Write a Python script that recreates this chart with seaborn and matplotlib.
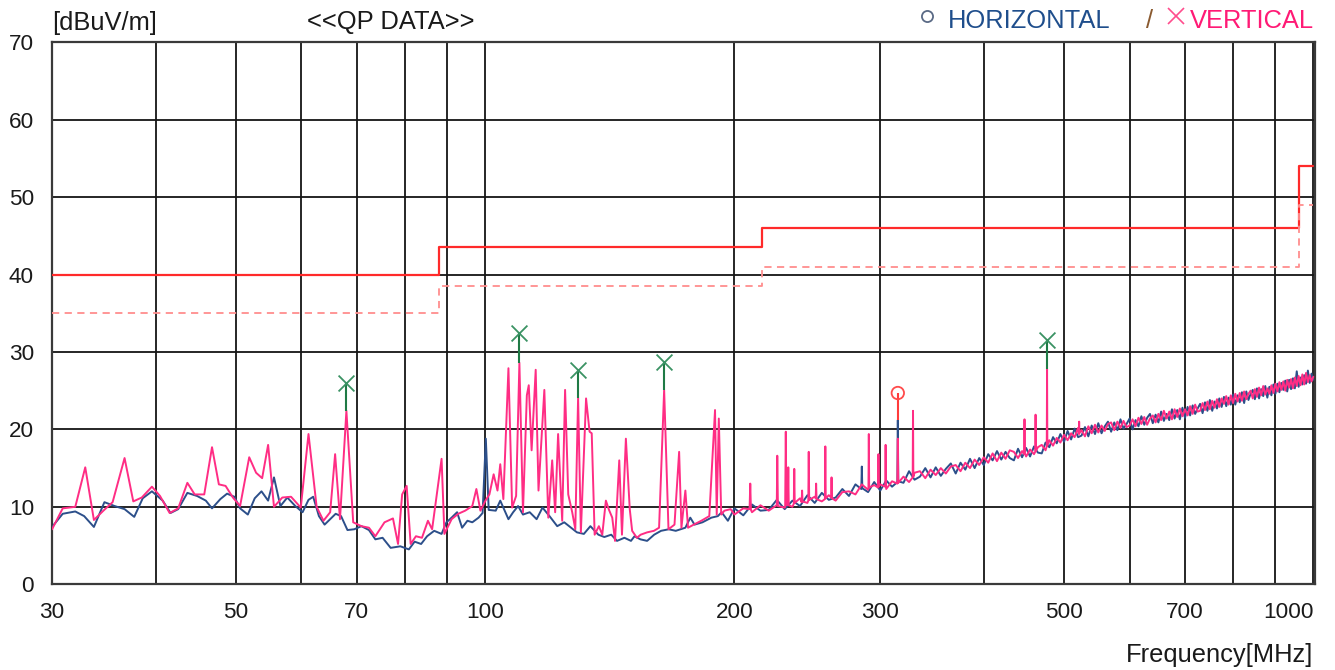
import matplotlib
matplotlib.use("Agg")
import matplotlib.pyplot as plt
from matplotlib.lines import Line2D
from matplotlib.ticker import NullLocator
import pandas as pd
import seaborn as sns

# 規格線 (QP limit) と 5dB マージン
lim_freq = [30, 88, 216, 960, 1000]
lim_level = [40, 43.5, 46, 54, 54]
margin_level = [35, 38.5, 41, 49, 49]

# 目盛り
grid_freq = [30, 40, 50, 60, 70, 80, 90, 100, 200, 300, 400, 500, 600, 700, 800, 900, 1000]
grid_label = ['30', '', '50', '', '70', '', '', '100', '200', '300', '', '500', '', '700', '', '', '1000']
level_ticks = [0, 10, 20, 30, 40, 50, 60, 70]

# 水平偏波 30-200MHz
h_freq_low = [30.0, 30.9, 32.0, 32.8, 33.7, 34.7, 35.7, 36.7, 37.7, 38.6,
              39.6, 40.8, 41.7, 42.6, 43.7, 44.9, 46.0, 46.8, 47.9, 48.8,
              49.8, 50.6, 51.7, 52.7, 53.7, 54.7, 55.6, 56.6, 57.7, 59.0,
              60.2, 61.2, 62.0, 63.0, 64.0, 65.0, 66.0, 67.0, 68.2, 69.5,
              70.9, 72.4, 73.7, 75.2, 76.9, 79.0, 80.9, 82.2, 83.7, 85.1,
              86.8, 88.6, 89.8, 91.1, 92.5, 93.8, 95.2, 96.5, 98.2, 99.3,
              100.2, 101.0, 103.0, 104.3, 105.8, 106.7, 108.1, 109.6, 111.1, 113.2,
              115.4, 117.3, 119.6, 122.2, 124.6, 127.0, 129.1, 131.6, 134.0, 137.0,
              139.3, 142.0, 144.3, 147.3, 150.0, 151.5, 154.0, 156.9, 160.0, 163.1,
              166.6, 169.9, 174.5, 176.9, 179.0, 183.0, 187.6, 191.0, 193.0, 196.4]
h_level_low = [7.4, 9.1, 9.4, 8.8, 7.4, 10.6, 10.1, 9.7, 8.7, 11.1,
               12.0, 10.8, 9.2, 9.7, 11.8, 11.4, 10.8, 9.8, 11.0, 11.7,
               11.3, 9.8, 9.0, 11.1, 12.0, 10.8, 13.8, 10.1, 11.2, 10.1,
               9.3, 10.9, 11.3, 8.8, 7.7, 8.4, 9.1, 8.8, 7.0, 7.1,
               7.5, 7.0, 5.8, 6.0, 4.7, 4.9, 4.5, 5.5, 5.2, 6.2,
               6.9, 6.5, 8.0, 8.6, 9.3, 7.3, 8.2, 8.0, 8.6, 9.2,
               18.8, 9.6, 9.5, 10.8, 9.3, 8.4, 9.3, 10.1, 9.0, 9.3,
               8.4, 9.9, 8.8, 7.5, 8.0, 7.3, 6.7, 6.5, 7.5, 6.4,
               6.1, 6.4, 5.6, 6.0, 5.6, 6.2, 5.8, 5.6, 6.4, 6.9,
               7.1, 6.9, 7.3, 8.6, 7.7, 8.0, 8.6, 8.8, 9.3, 8.2]

# 垂直偏波 30-200MHz
v_freq_low = [30.0, 30.9, 32.0, 32.9, 33.7, 34.6, 35.5, 36.7, 37.6, 38.5,
              39.6, 40.5, 41.6, 42.6, 43.7, 44.6, 45.8, 46.8, 47.7, 48.6,
              49.6, 50.6, 51.9, 52.9, 53.8, 54.7, 55.6, 56.9, 58.3, 59.9,
              61.2, 62.6, 63.8, 65.0, 65.9, 66.8, 68.0, 69.3, 70.9, 72.4,
              73.7, 75.6, 77.4, 78.5, 79.4, 80.4, 81.3, 82.5, 83.9, 85.3,
              86.3, 88.6, 89.3, 91.1, 92.8, 94.6, 96.5, 97.6, 98.7, 100.1,
              101.2, 102.4, 103.5, 104.3, 105.2, 106.7, 107.8, 109.0, 110.0, 111.1,
              112.3, 112.9, 113.8, 115.1, 116.0, 117.9, 119.2, 120.5, 121.5, 122.5,
              123.9, 124.9, 126.0, 127.4, 128.5, 129.5, 130.5, 132.4, 133.7, 134.5,
              135.6, 137.2, 138.5, 139.9, 141.0, 142.4, 143.5, 145.2, 146.3, 147.9,
              149.5, 150.5, 152.5, 154.1, 156.9, 159.9, 162.2, 164.5, 166.5, 169.3,
              171.5, 172.6, 174.5, 175.8, 178.6, 182.4, 186.5, 189.5, 190.4, 191.5,
              192.8, 194.5, 197.9]
v_level_low = [7.1, 9.8, 10.0, 15.1, 8.3, 9.5, 10.6, 16.3, 10.7, 11.2,
               12.6, 11.4, 9.2, 9.8, 13.1, 11.6, 11.6, 17.7, 12.9, 12.7,
               11.2, 10.1, 16.4, 14.4, 13.7, 18.0, 10.0, 11.2, 11.3, 9.9,
               19.4, 10.0, 8.2, 9.3, 16.8, 8.4, 22.4, 8.0, 7.5, 7.3,
               6.2, 8.0, 8.5, 5.2, 11.6, 12.7, 5.2, 6.2, 6.0, 8.2,
               7.1, 16.2, 6.5, 8.4, 9.1, 9.5, 10.1, 12.3, 9.5, 10.8,
               11.6, 14.2, 12.1, 15.5, 11.0, 27.9, 9.9, 11.4, 28.6, 9.3,
               24.4, 25.7, 17.3, 27.7, 12.1, 25.1, 8.6, 16.0, 9.3, 19.4,
               8.2, 25.1, 11.6, 9.3, 7.1, 24.1, 6.7, 24.0, 19.7, 19.5,
               6.4, 7.5, 6.4, 10.8, 9.7, 8.6, 5.6, 16.0, 6.4, 18.8,
               9.7, 6.9, 6.0, 6.4, 6.7, 6.9, 7.3, 25.1, 7.1, 7.7,
               17.1, 7.3, 12.1, 7.3, 7.7, 8.2, 8.8, 22.5, 9.0, 21.4,
               9.0, 9.5, 9.7]

# 200-1000MHz 共通の周波数点
hi_freq = [200, 205, 210, 215, 220, 225, 230, 235, 240, 245,
           250, 255, 260, 265, 270, 275, 280, 285, 290, 295,
           300, 305, 310, 315, 320, 325, 330, 335, 340, 345,
           350, 355, 360, 365, 370, 375, 380, 385, 390, 395,
           400, 405, 410, 415, 420, 425, 430, 435, 440, 445,
           450, 455, 460, 465, 470, 475, 480, 485, 490, 495,
           500, 505, 510, 515, 520, 525, 530, 535, 540, 545,
           550, 555, 560, 565, 570, 575, 580, 585, 590, 595,
           600, 605, 610, 615, 620, 625, 630, 635, 640, 645,
           650, 655, 660, 665, 670, 675, 680, 685, 690, 695,
           700, 705, 710, 715, 720, 725, 730, 735, 740, 745,
           750, 755, 760, 765, 770, 775, 780, 785, 790, 795,
           800, 805, 810, 815, 820, 825, 830, 835, 840, 845,
           850, 855, 860, 865, 870, 875, 880, 885, 890, 895,
           900, 905, 910, 915, 920, 925, 930, 935, 940, 945,
           950, 955, 960, 965, 970, 975, 980, 985, 990, 995,
           1000]

h_level_hi = [9.8, 8.9, 10.3, 9.5, 9.6, 10.9, 9.7, 10.8, 10.1, 11.5,
              10.5, 11.8, 10.9, 11.2, 12.3, 11.4, 12.9, 15.2, 11.9, 13.2,
              12.1, 13.4, 12.6, 21.2, 13.1, 14.6, 13.5, 13.9, 15.0, 13.8,
              15.1, 14.0, 14.9, 15.6, 14.3, 15.7, 14.8, 16.2, 15.0, 16.3,
              15.4, 16.8, 16.0, 17.2, 16.1, 17.1, 16.3, 16.0, 17.5, 16.4,
              17.6, 16.5, 17.8, 17.0, 16.9, 18.3, 17.7, 19.0, 18.2, 19.4,
              18.4, 19.8, 18.7, 20.1, 19.0, 19.2, 20.3, 19.1, 20.5, 19.4,
              20.8, 19.5, 20.4, 21.0, 19.7, 20.9, 19.9, 21.3, 20.1, 20.7,
              21.4, 20.0, 21.2, 20.4, 21.7, 20.6, 21.5, 22.0, 20.8, 21.9,
              20.9, 22.3, 21.1, 22.0, 21.2, 22.6, 21.4, 22.5, 21.3, 22.8,
              21.5, 22.9, 21.8, 23.1, 22.0, 22.7, 23.3, 22.1, 23.5, 22.4,
              23.8, 22.4, 23.6, 22.7, 24.0, 22.9, 24.2, 23.0, 24.1, 23.2,
              24.5, 23.2, 24.4, 23.5, 24.8, 23.4, 24.9, 23.8, 24.6, 25.1,
              23.9, 25.3, 24.0, 25.2, 24.3, 25.6, 24.1, 25.5, 24.4, 25.8,
              24.6, 25.9, 24.8, 26.0, 25.1, 26.3, 24.9, 26.4, 25.2, 26.6,
              25.3, 27.5, 25.5, 26.7, 25.8, 27.0, 25.9, 27.6, 26.0, 27.2,
              26.4]

v_level_hi = [9.0, 9.8, 9.3, 10.2, 9.5, 10.4, 9.9, 10.0, 11.1, 10.5,
              11.3, 10.7, 11.5, 10.8, 11.9, 12.0, 11.6, 12.9, 12.2, 12.8,
              12.9, 12.3, 13.3, 18.8, 13.9, 13.2, 14.4, 14.6, 13.7, 14.8,
              14.1, 15.0, 14.3, 15.2, 15.4, 14.6, 15.7, 15.0, 16.1, 15.4,
              16.4, 15.7, 16.9, 15.9, 17.0, 16.2, 17.3, 17.1, 16.3, 17.2,
              16.5, 17.4, 16.8, 17.7, 18.0, 17.3, 18.6, 17.9, 18.9, 18.3,
              19.3, 18.6, 19.5, 19.0, 20.2, 19.9, 19.1, 20.4, 19.5, 20.6,
              19.6, 20.5, 19.8, 20.7, 20.9, 19.9, 21.0, 20.2, 21.1, 20.3,
              20.5, 21.3, 20.4, 21.5, 20.7, 21.6, 20.6, 21.4, 21.8, 20.9,
              22.0, 21.2, 22.4, 21.4, 22.3, 21.3, 22.6, 21.6, 22.7, 21.7,
              22.6, 21.8, 23.0, 22.0, 23.2, 22.3, 22.4, 23.4, 22.5, 23.6,
              22.6, 23.7, 22.8, 23.9, 22.9, 24.0, 23.3, 24.3, 23.2, 24.4,
              23.4, 24.6, 23.6, 24.7, 23.7, 24.9, 23.9, 24.6, 25.0, 24.0,
              25.2, 24.2, 25.4, 24.4, 25.6, 24.5, 25.3, 24.6, 25.7, 24.7,
              25.9, 24.9, 26.1, 25.1, 26.2, 25.0, 26.4, 25.4, 26.5, 25.3,
              26.7, 25.6, 26.9, 25.7, 27.1, 25.8, 27.3, 26.1, 27.0, 26.2,
              26.8]

# 細いスパイクの肩
h_spike_freq = [284.6, 285.4, 314.6, 315.4]
h_spike_level = [12.3, 12.4, 13.2, 13.3]

v_spike_freq = [208.6, 209.0, 209.4, 224.9, 225.3, 225.7, 230.3, 230.7, 231.1,
                232.0, 232.3, 232.6, 235.9, 236.2, 236.5, 241.1, 241.4, 241.7,
                245.6, 245.9, 246.2, 250.7, 251.0, 251.3, 257.2, 257.5, 257.8,
                261.7, 262.0, 262.3, 290.3, 290.6, 290.9, 298.2, 298.5, 298.8,
                304.2, 304.5, 304.8, 314.6, 315.4, 328.3, 328.6, 328.9,
                447.6, 448.0, 448.4, 461.6, 462.0, 462.4, 476.6, 477.0, 477.4,
                521.2, 521.5, 521.8]
v_spike_level = [9.7, 13.0, 9.6, 10.2, 16.6, 10.1, 10.0, 19.7, 10.2,
                 10.3, 15.1, 10.2, 10.4, 14.9, 10.5, 10.6, 12.1, 10.7,
                 10.8, 17.1, 10.9, 11.1, 13.0, 11.0, 11.0, 17.8, 11.1,
                 11.2, 13.8, 11.1, 12.4, 19.4, 12.5, 12.5, 16.8, 12.6,
                 12.6, 18.0, 12.7, 13.0, 13.1, 13.8, 22.4, 13.9,
                 16.8, 21.3, 16.9, 17.1, 21.9, 17.2, 17.8, 27.8, 17.9,
                 19.4, 21.0, 19.5]

# QP 測定点
v_qp_freq = [68.0, 110.0, 129.5, 164.5, 477.0]
v_qp_level = [26.0, 32.5, 27.7, 28.7, 31.5]
v_peak_level = [22.4, 28.6, 24.1, 25.1, 27.8]
h_qp_freq = [315.0]
h_qp_level = [24.7]
h_peak_level = [21.2]

h_df = pd.DataFrame({'freq': h_freq_low + hi_freq + h_spike_freq,
                     'level': h_level_low + h_level_hi + h_spike_level}).sort_values('freq')
v_df = pd.DataFrame({'freq': v_freq_low + hi_freq + v_spike_freq,
                     'level': v_level_low + v_level_hi + v_spike_level}).sort_values('freq')

sns.set_theme(style="white")
plt.rcParams['font.family'] = ['Liberation Sans', 'DejaVu Sans']

fig = plt.figure(figsize=(13.35, 6.7), dpi=100)
ax = fig.add_axes([0.039, 0.128, 0.9461, 0.8089])
ax.set_xscale('log')

# 規格線
ax.plot(lim_freq, lim_level, drawstyle='steps-post', color='#ff2a2a', lw=1.6, zorder=3)
ax.plot(lim_freq, margin_level, drawstyle='steps-post', color='#ff8e8e', lw=1.3,
        ls=(0, (4, 3)), zorder=3)

# スペクトル
sns.lineplot(data=h_df, x='freq', y='level', ax=ax, color='#2c4f8a', lw=1.4,
             estimator=None, sort=False, zorder=4)
sns.lineplot(data=v_df, x='freq', y='level', ax=ax, color='#ff2d84', lw=1.4,
             estimator=None, sort=False, zorder=5)

# QP マーカー
ax.vlines(v_qp_freq, v_peak_level, v_qp_level, color='#1f7a45', lw=1.5, zorder=6)
sns.scatterplot(x=v_qp_freq, y=v_qp_level, marker='x', s=130, color='#3a9263',
                linewidth=1.3, ax=ax, zorder=7)
ax.vlines(h_qp_freq, h_peak_level, h_qp_level, color='#ff3b3b', lw=1.5, zorder=6)
ax.scatter(h_qp_freq, h_qp_level, s=80, facecolors='none', edgecolors='#ff4b4b',
           linewidths=1.3, zorder=7)

ax.set_xlim(30, 1005)
ax.set_ylim(0, 70)
ax.set_xticks(grid_freq)
ax.set_xticklabels(grid_label)
ax.get_xticklabels()[-1].set_ha('right')
ax.xaxis.set_minor_locator(NullLocator())
ax.set_yticks(level_ticks)
ax.set_xlabel('')
ax.set_ylabel('')
ax.grid(True, color='#151515', lw=1.3)
ax.set_axisbelow(True)
ax.tick_params(length=0, labelsize=16.2, pad=13, colors='#1a1a1a')
for s in ax.spines.values():
    s.set_color('#3a3a3a')
    s.set_linewidth(1.6)

# 見出しと凡例
fs = 18.4
fig.text(52 / 1335, 1 - 30 / 670, '[dBuV/m]', fontsize=fs, color='#1a1a1a', va='baseline')
fig.text(307 / 1335, 1 - 29 / 670, '<<QP DATA>>', fontsize=fs, color='#1a1a1a', va='baseline')
fig.add_artist(Line2D([927 / 1335], [1 - 16 / 670], marker='o', ms=8, mfc='none',
                      mec='#5a6a85', mew=1.3, transform=fig.transFigure))
fig.text(948 / 1335, 1 - 28 / 670, 'HORIZONTAL', fontsize=fs, color='#1f4e8c', va='baseline')
fig.text(1146 / 1335, 1 - 28 / 670, '/', fontsize=fs, color='#8a5a30', va='baseline')
fig.add_artist(Line2D([1176 / 1335], [1 - 16 / 670], marker='x', ms=11,
                      mec='#ff4d8d', mew=1.2, transform=fig.transFigure))
fig.text(1190 / 1335, 1 - 28 / 670, 'VERTICAL', fontsize=fs, color='#ff1a75', va='baseline')
fig.text(1313 / 1335, 1 - 662 / 670, 'Frequency[MHz]', fontsize=fs, color='#1a1a1a',
         ha='right', va='baseline')

fig.savefig('out.png', dpi=100)
